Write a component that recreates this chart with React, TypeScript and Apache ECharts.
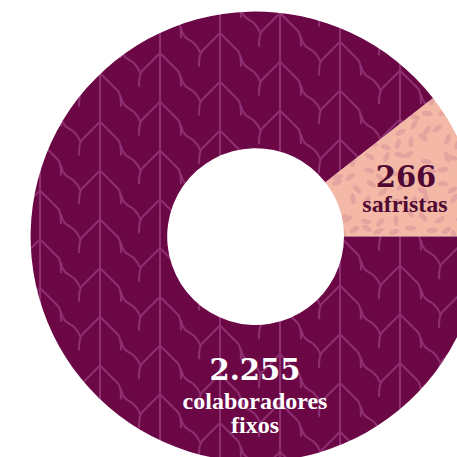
import React, { useEffect, useRef } from "react";
import * as echarts from "echarts";

const categories = ["safristas", "colaboradores fixos"];
const values = [266, 2255];
const numberLabels = values.map((v) => String(v).replace(/\B(?=(\d{3})+(?!\d))/g, "."));
const wordLines = [["safristas"], ["colaboradores", "fixos"]];

const W = 480;
const H = 480;

function treeCanvas(): HTMLCanvasElement {
  const c = document.createElement("canvas");
  c.width = W;
  c.height = H;
  const g = c.getContext("2d")!;
  g.fillStyle = "#6c0746";
  g.fillRect(0, 0, W, H);
  g.strokeStyle = "#8d2f70";
  g.lineWidth = 2.1;
  g.lineCap = "round";
  g.lineJoin = "round";
  const P = 48.75;
  for (let k = -1; k < 9; k++) {
    const x = 40 + 60 * k;
    g.beginPath();
    g.moveTo(x, 0);
    g.lineTo(x, H);
    g.stroke();
    let off = (44.25 - 20 * k) % P;
    if (off < 0) off += P;
    for (let n = -2; n < 12; n++) {
      const y = off + n * P;
      g.beginPath();
      g.moveTo(x, y);
      g.lineTo(x - 18, y + 18);
      g.quadraticCurveTo(x - 21, y + 21, x - 21, y + 33);
      g.moveTo(x, y);
      g.lineTo(x + 18, y + 18);
      g.quadraticCurveTo(x + 21, y + 21, x + 21, y + 33);
      g.stroke();
      // wavy twig between stems
      g.beginPath();
      g.moveTo(x + 21, y + 24);
      g.bezierCurveTo(x + 23, y + 35, x + 30, y + 35, x + 34, y + 39);
      g.bezierCurveTo(x + 38, y + 43, x + 39, y + 45, x + 40, y + 48);
      g.stroke();
    }
  }
  return c;
}

function riceCanvas(): HTMLCanvasElement {
  const c = document.createElement("canvas");
  c.width = W;
  c.height = H;
  const g = c.getContext("2d")!;
  g.fillStyle = "#f3b9a6";
  g.fillRect(0, 0, W, H);
  g.fillStyle = "#e4a39e";
  let s = 12345;
  const rnd = () => {
    s = (s * 1103515245 + 12345) % 2147483648;
    return s / 2147483648;
  };
  const step = 15;
  for (let yy = 0; yy < H; yy += step) {
    for (let xx = 0; xx < W; xx += step) {
      const cx = xx + 2 + rnd() * (step - 4);
      const cy = yy + 2 + rnd() * (step - 4);
      const a = rnd() * Math.PI;
      g.beginPath();
      g.ellipse(cx, cy, 5.5, 2.6, a, 0, Math.PI * 2);
      g.fill();
    }
  }
  return c;
}

export default function App() {
  const ref = useRef<HTMLDivElement>(null);
  useEffect(() => {
    if (!ref.current) return;
    const chart = echarts.init(ref.current, undefined, { renderer: "svg" });
    const total = values.reduce((a, b) => a + b, 0);
    const startAngle = (360 * values[0]) / total;
    const fills = [
      { image: riceCanvas(), repeat: "repeat", imageWidth: W, imageHeight: H },
      { image: treeCanvas(), repeat: "repeat", imageWidth: W, imageHeight: H },
    ];
    const dark = "#4f0932";
    const txt = (x: number, y: number, text: string, font: string, fill: string) => ({
      type: "text",
      x,
      y,
      z: 100,
      silent: true,
      style: { text, font, fill, align: "center", verticalAlign: "middle" },
    });
    chart.setOption({
      animation: false,
      backgroundColor: "#ffffff",
      series: [
        {
          type: "pie",
          center: [255.6, 236.6],
          radius: [88.4, 225],
          startAngle,
          clockwise: true,
          silent: true,
          z: 1,
          label: { show: false },
          labelLine: { show: false },
          emphasis: { disabled: true },
          itemStyle: { borderWidth: 0 },
          data: categories.map((name, i) => ({
            name,
            value: values[i],
            itemStyle: { color: fills[i] as any },
          })),
        },
      ],
      graphic: {
        elements: [
          txt(406, 177, numberLabels[0], 'bold 29px "DejaVu Serif"', dark),
          txt(405, 204, wordLines[0][0], 'bold 24px "Liberation Serif"', dark),
          txt(255, 370, numberLabels[1], 'bold 29px "DejaVu Serif"', "#ffffff"),
          txt(255, 401, wordLines[1][0], 'bold 24px "Liberation Serif"', "#ffffff"),
          txt(255, 425, wordLines[1][1], 'bold 24px "Liberation Serif"', "#ffffff"),
        ],
      },
    });
    return () => chart.dispose();
  }, []);
  return (
    <div
      ref={ref}
      style={{ position: "fixed", left: 0, top: 0, width: 457, height: 457 }}
    />
  );
}
